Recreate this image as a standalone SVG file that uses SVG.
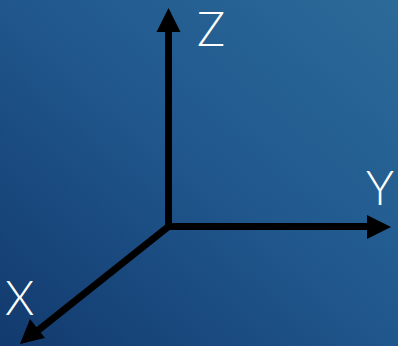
<svg xmlns="http://www.w3.org/2000/svg" width="398" height="346" viewBox="0 0 398 346">
<defs>
<linearGradient id="bg" x1="0" y1="1" x2="1" y2="0">
<stop offset="0" stop-color="#123a6e"/>
<stop offset="0.55" stop-color="#21598f"/>
<stop offset="1" stop-color="#2c6a98"/>
</linearGradient>
<style>
.ax{stroke:#000;stroke-width:7;fill:none}
.hd{fill:#000}
.lb{font-family:Lato,"Open Sans","DejaVu Sans",sans-serif;font-weight:300;font-size:47px;fill:#fff}
</style>
</defs>
<rect width="398" height="346" fill="url(#bg)"/>
<g id="connectors">
<g id="z-axis">
<line class="ax" x1="168.5" y1="230" x2="168.5" y2="30"/>
<polygon class="hd" points="168.5,8 180.5,32 156.5,32"/>
</g>
<g id="y-axis">
<line class="ax" x1="165" y1="226.5" x2="369" y2="226.5"/>
<polygon class="hd" points="391,227 367,215 367,239"/>
</g>
<g id="x-axis">
<line class="ax" x1="168.5" y1="226.5" x2="36" y2="332"/>
<polygon class="hd" points="20,344 30,319 45,338"/>
</g>
</g>
<g id="label-z"><text class="lb" x="197" y="46">Z</text></g>
<g id="label-y"><text class="lb" x="366" y="205">Y</text></g>
<g id="label-x"><text class="lb" x="5" y="315">X</text></g>
</svg>
